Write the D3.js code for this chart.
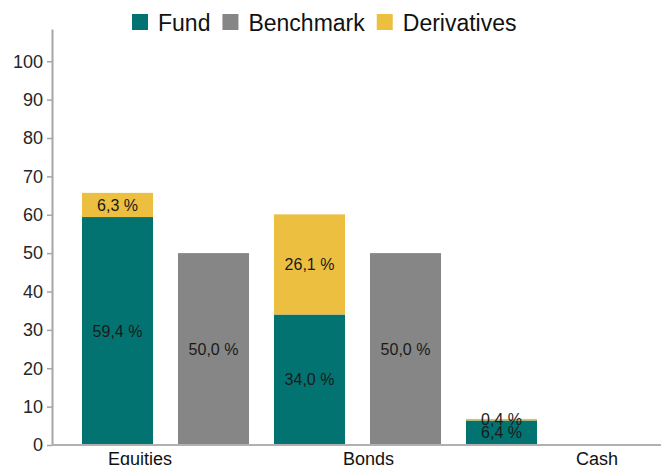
<!DOCTYPE html>
<html>
<head>
  <meta charset="UTF-8">
  <style>
    body { margin: 0; background: #fff; }
    text { font-family: "Liberation Sans", Arial, sans-serif; }
  </style>
</head>
<body>
<script type='text/javascript' src='https://d3js.org/d3.v7.min.js'></script>
<script>
var width = 661, height = 465;

// data
var categories = ['Equities', 'Bonds', 'Cash'];
var seriesNames = ['Fund', 'Benchmark', 'Derivatives'];
var fundValues = [59.4, 34.0, 6.4];
var derivValues = [6.3, 26.1, 0.4];
var benchValues = [50.0, 50.0, 0];
var yTicks = [0, 10, 20, 30, 40, 50, 60, 70, 80, 90, 100];
var colors = {Fund: '#037371', Benchmark: '#868686', Derivatives: '#ecbf41'};

var svg = d3.select('body').append('svg').attr('width', width).attr('height', height);

// scales
var y = d3.scaleLinear().domain([0, 108.4]).range([445, 29]);
var x0 = d3.scaleBand().domain(categories).range([69.5, 645.5]);
var x1 = d3.scaleBand().domain(['Fund', 'Benchmark']).range([0, x0.bandwidth()])
  .paddingInner(0.26).paddingOuter(0.13);
// category labels sit on their own spacing in the original
var xl = d3.scalePoint().domain(categories).range([140, 597]);

// stacked segments: fund + derivatives on top, benchmark alone
var segs = [];
categories.forEach(function(c, i) {
  segs.push({cat: c, slot: 'Fund', s: 'Fund', y0: 0, y1: fundValues[i], v: fundValues[i]});
  segs.push({cat: c, slot: 'Fund', s: 'Derivatives', y0: fundValues[i], y1: fundValues[i] + derivValues[i], v: derivValues[i]});
  if (benchValues[i] > 0)
    segs.push({cat: c, slot: 'Benchmark', s: 'Benchmark', y0: 0, y1: benchValues[i], v: benchValues[i]});
});

svg.append('g').selectAll('rect')
  .data(segs)
  .join('rect')
  .attr('x', function(d) { return x0(d.cat) + x1(d.slot) })
  .attr('width', x1.bandwidth())
  .attr('y', function(d) { return y(d.y1) })
  .attr('height', function(d) { return y(d.y0) - y(d.y1) })
  .attr('fill', function(d) { return colors[d.s] });

svg.append('g').selectAll('text')
  .data(segs)
  .join('text')
  .attr('x', function(d) { return x0(d.cat) + x1(d.slot) + x1.bandwidth() / 2 })
  .attr('y', function(d) { return (y(d.y0) + y(d.y1)) / 2 })
  .attr('dy', '0.35em')
  .attr('text-anchor', 'middle')
  .attr('font-size', 16)
  .attr('fill', '#1a1a1a')
  .text(function(d) { return d.v.toFixed(1).replace('.', ',') + ' %' });

// y axis
var yAxis = svg.append('g').attr('transform', 'translate(52,0)')
  .call(d3.axisLeft(y).tickValues(yTicks).tickSize(5).tickSizeOuter(0));
yAxis.select('.domain').attr('stroke', '#a6a6a6').attr('stroke-width', 2);
yAxis.selectAll('.tick line').attr('stroke', '#a6a6a6').attr('stroke-width', 1.5);
yAxis.selectAll('.tick text').attr('font-size', 18).attr('fill', '#262626')
  .attr('font-family', '"Liberation Sans", Arial, sans-serif').attr('x', -9);

// x axis baseline
svg.append('line')
  .attr('x1', 52).attr('x2', width)
  .attr('y1', y(0)).attr('y2', y(0))
  .attr('stroke', '#b0b0b0').attr('stroke-width', 2);

svg.append('g').selectAll('text')
  .data(categories)
  .join('text')
  .attr('x', function(d) { return xl(d) })
  .attr('y', 465)
  .attr('text-anchor', 'middle')
  .attr('font-size', 18)
  .attr('fill', '#111')
  .text(function(d) { return d });

// legend
var legend = svg.append('g').attr('transform', 'translate(132,0)');
var lx = 0;
seriesNames.forEach(function(n) {
  legend.append('rect').attr('x', lx).attr('y', 14).attr('width', 16).attr('height', 16)
    .attr('fill', colors[n]);
  var t = legend.append('text').attr('x', lx + 26).attr('y', 31)
    .attr('font-size', 23).attr('fill', '#111').text(n);
  lx += 26 + t.node().getComputedTextLength() + 12;
});
</script>
</body>
</html>
